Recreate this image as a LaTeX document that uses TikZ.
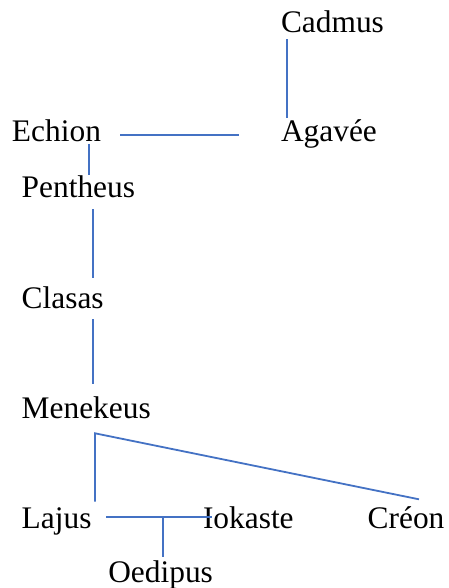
\documentclass[tikz,border=0pt]{standalone}
\usepackage{fontspec}
\setmainfont{Liberation Serif}
\usetikzlibrary{calc}
\definecolor{linkblue}{HTML}{4472C4}
\begin{document}
\begin{tikzpicture}[x=1pt,y=1pt,
  person/.style={anchor=base west,inner sep=0pt,outer sep=0pt,font=\fontsize{31.4}{36}\selectfont},
  link/.style={draw=linkblue,line width=1.8pt}]
\useasboundingbox (0,0) rectangle (448,-588);
\node[person] (cadmus)   at (281,-32.8)   {Cadmus};
\node[person] (echion)   at (12,-141.7)   {Echion};
\node[person] (agavee)   at (281,-141.7)  {Agavée};
\node[person] (pentheus) at (21.7,-197)   {Pentheus};
\node[person] (clasas)   at (21.7,-308)   {Clasas};
\node[person] (menekeus) at (21.7,-418)   {Menekeus};
\node[person] (lajus)    at (21.7,-528.3) {Lajus};
\node[person] (iokaste)  at (203,-528.3)  {Iokaste};
\node[person] (creon)    at (367.7,-528.3){Créon};
\node[person] (oedipus)  at (108.3,-582.7){Oedipus};
% connectors
\draw[link] ($(cadmus.base west)+(5.7,-6.7)$) -- ($(agavee.base west)+(5.7,23.7)$);
\draw[link] ($(echion.base west)+(108,7)$) -- ($(agavee.base west)+(-42,7)$);
\draw[link] ($(echion.base west)+(77,-2.3)$) -- ($(pentheus.base west)+(67.3,22)$);
\draw[link] ($(pentheus.base west)+(71,-12)$) -- ($(clasas.base west)+(71,30)$);
\draw[link] ($(clasas.base west)+(71,-11)$) -- ($(menekeus.base west)+(71,34)$);
\draw[link] ($(lajus.base west)+(73.3,26.6)$) -- ($(menekeus.base west)+(73.3,-15.3)$) -- ($(creon.base west)+(51.3,29)$);
\draw[link] ($(lajus.base west)+(84.3,11.6)$) -- ($(iokaste.base west)+(8.7,11.6)$);
\draw[link] ($(lajus.base west)+(141,11.6)$) -- ($(oedipus.base west)+(54.4,26)$);
\end{tikzpicture}
\end{document}
